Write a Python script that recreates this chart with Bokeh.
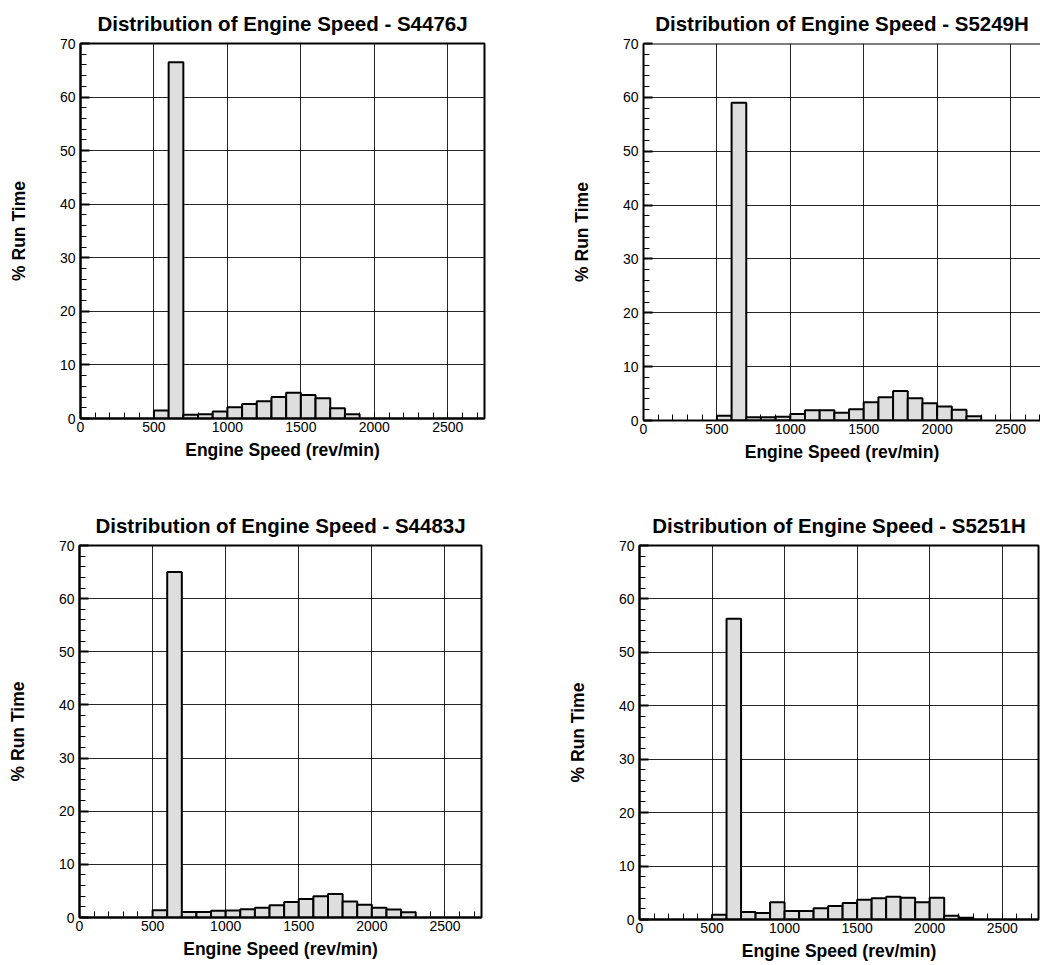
from bokeh.plotting import figure
from bokeh.layouts import column, row
from bokeh.models import SingleIntervalTicker, Span
from bokeh.embed import file_html
from bokeh.resources import INLINE

# ---- data (bin start in rev/min, % run time) ----
bins_s4476j = [500, 600, 700, 800, 900, 1000, 1100, 1200, 1300, 1400, 1500, 1600, 1700, 1800]
pct_s4476j = [1.5, 66.5, 0.7, 0.8, 1.3, 2.1, 2.7, 3.2, 4.0, 4.8, 4.4, 3.8, 1.9, 0.8]

bins_s5249h = [500, 600, 700, 800, 900, 1000, 1100, 1200, 1300, 1400, 1500, 1600, 1700, 1800, 1900, 2000, 2100, 2200]
pct_s5249h = [0.9, 59.0, 0.6, 0.6, 0.7, 1.2, 1.9, 1.9, 1.45, 2.1, 3.4, 4.3, 5.5, 4.15, 3.2, 2.6, 2.0, 0.8]

bins_s4483j = [500, 600, 700, 800, 900, 1000, 1100, 1200, 1300, 1400, 1500, 1600, 1700, 1800, 1900, 2000, 2100, 2200]
pct_s4483j = [1.35, 65.0, 1.05, 1.05, 1.25, 1.3, 1.55, 1.85, 2.3, 2.9, 3.5, 4.0, 4.4, 3.0, 2.4, 1.85, 1.5, 1.0]

bins_s5251h = [500, 600, 700, 800, 900, 1000, 1100, 1200, 1300, 1400, 1500, 1600, 1700, 1800, 1900, 2000, 2100, 2200]
pct_s5251h = [0.9, 56.3, 1.4, 1.2, 3.25, 1.6, 1.6, 2.1, 2.55, 3.1, 3.7, 4.0, 4.25, 4.05, 3.25, 4.05, 0.7, 0.35]

titles = ["Distribution of Engine Speed - S4476J", "Distribution of Engine Speed - S5249H",
          "Distribution of Engine Speed - S4483J", "Distribution of Engine Speed - S5251H"]
bin_width = 100
y_max = 70
x_label = "Engine Speed (rev/min)"
y_label = "% Run Time"

FONT = "Liberation Sans"


def make_panel(title, bins, pct, x_end, frame_w, frame_h, bl, bt, br, bb, outline=True):
    p = figure(x_range=(0, x_end), y_range=(0, y_max), frame_width=frame_w, frame_height=frame_h,
               min_border_left=bl, min_border_top=bt, min_border_right=br, min_border_bottom=bb,
               output_backend="svg", toolbar_location=None, title=title)
    p.title.text_font = FONT
    p.title.text_font_size = "20.5px"
    p.title.text_font_style = "bold"
    p.title.text_color = "black"
    p.title.align = "center"
    p.title.standoff = 17
    p.background_fill_color = "white"
    p.border_fill_color = "white"
    if outline:
        p.outline_line_color = "black"
        p.outline_line_width = 2
    else:
        p.outline_line_color = None
        p.add_layout(Span(location=y_max, dimension="width", line_color="black", line_width=2))

    lefts = bins
    rights = [b + bin_width for b in bins]
    p.quad(left=lefts, right=rights, bottom=0, top=pct, fill_color="#dedede",
           line_color="black", line_width=2)

    p.xaxis.ticker = SingleIntervalTicker(interval=500, num_minor_ticks=5)
    p.yaxis.ticker = SingleIntervalTicker(interval=10, num_minor_ticks=5)
    for ax in (p.xaxis[0], p.yaxis[0]):
        ax.axis_line_width = 2
        ax.axis_line_color = "black"
        ax.major_tick_in = 9
        ax.major_tick_out = 0
        ax.major_tick_line_width = 2
        ax.minor_tick_in = 6
        ax.minor_tick_out = 0
        ax.minor_tick_line_width = 1
        ax.major_label_text_font = FONT
        ax.major_label_text_font_size = "14px"
        ax.major_label_text_color = "black"
        ax.axis_label_text_font = FONT
        ax.axis_label_text_font_size = "17.5px"
        ax.axis_label_text_font_style = "bold"
        ax.axis_label_text_color = "black"
    p.xaxis.axis_label = x_label
    p.yaxis.axis_label = y_label
    p.xaxis.major_label_standoff = 3
    p.xaxis.axis_label_standoff = 5
    p.yaxis.major_label_standoff = 5
    p.yaxis.axis_label_standoff = 28
    p.xaxis.major_tick_in = 0
    for g in (p.xgrid[0], p.ygrid[0]):
        g.grid_line_color = "black"
        g.grid_line_width = 1
        g.grid_line_alpha = 0.85
    return p


f1 = make_panel(titles[0], bins_s4476j, pct_s4476j, 2750, 404, 375, 80, 43, 30, 72)
f2 = make_panel(titles[1], bins_s5249h, pct_s5249h, 2704, 397, 377, 129, 43, 0, 70, outline=False)
f3 = make_panel(titles[2], bins_s4483j, pct_s4483j, 2750, 402, 372, 79, 55, 40, 48)
f4 = make_panel(titles[3], bins_s5251h, pct_s5251h, 2750, 399, 374, 118, 55, 2, 46)

layout = column(row(f1, f2), row(f3, f4))

open("out.html", "w").write(file_html(layout, INLINE))
